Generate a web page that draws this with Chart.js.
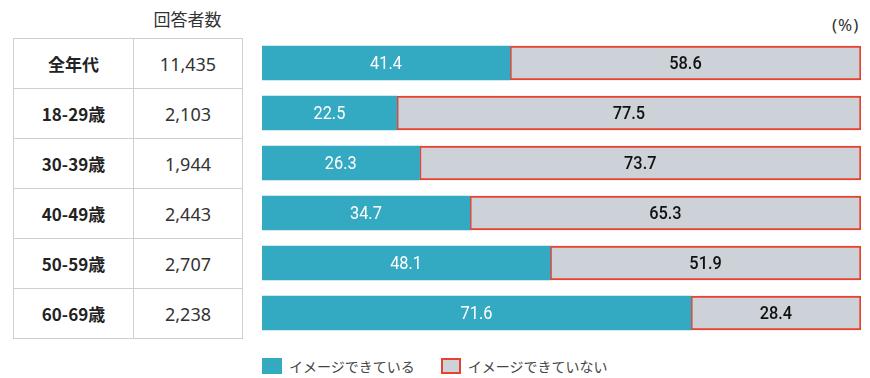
<!DOCTYPE html>
<html lang="ja">
<head>
<meta charset="utf-8">
<script src="https://cdn.jsdelivr.net/npm/chart.js@4.4.1/dist/chart.umd.min.js"></script>
<style>
  html, body { margin: 0; padding: 0; background: #fff; overflow: hidden; }
  body { width: 870px; height: 378px; position: relative; font-family: 'Noto Sans CJK JP', 'Noto Sans', sans-serif; color: #333; }
  #wrap { position: absolute; left: 0; top: 0; width: 870px; height: 345px; }
  #head { position: absolute; left: 133px; width: 109px; top: 7px; text-align: center; font-size: 17px; line-height: 24px; }
  #unit { position: absolute; left: 832px; top: 14px; font-size: 17px; line-height: 22px; letter-spacing: 1px; font-family: 'Noto Sans', sans-serif; }
  table { position: absolute; left: 13px; top: 38px; border-collapse: collapse; }
  td { border: 1px solid #cfcfcf; height: 49px; padding: 0; text-align: center; }
  td.age { width: 119px; font-weight: bold; font-size: 17px; color: #222; }
  td.num { width: 108px; font-size: 18px; color: #333; font-family: 'Noto Sans', Roboto, sans-serif; }
  #legend { position: absolute; left: 262px; top: 357px; display: flex; font-size: 14px; line-height: 18px; color: #444; }
  #legend .item { display: flex; align-items: center; margin-right: 26px; }
  #legend .box { width: 20px; height: 16px; margin-right: 7px; box-sizing: border-box; }
</style>
</head>
<body>
<div id="head">回答者数</div>
<div id="unit">(%)</div>
<table id="tbl"></table>
<div id="wrap"><canvas id="c"></canvas></div>
<div id="legend"></div>
<script>
var ageGroups = ['全年代', '18-29歳', '30-39歳', '40-49歳', '50-59歳', '60-69歳'];
var respondents = ['11,435', '2,103', '1,944', '2,443', '2,707', '2,238'];
var canImagine = [41.4, 22.5, 26.3, 34.7, 48.1, 71.6];
var cannotImagine = [58.6, 77.5, 73.7, 65.3, 51.9, 28.4];
var seriesNames = ['イメージできている', 'イメージできていない'];

// left table
var tbl = document.getElementById('tbl');
for (var i = 0; i < ageGroups.length; i++) {
  var tr = document.createElement('tr');
  tr.innerHTML = '<td class="age">' + ageGroups[i] + '</td><td class="num">' + respondents[i] + '</td>';
  tbl.appendChild(tr);
}

// value labels in the middle of each bar (narrow digits like the original)
var barLabels = {
  id: 'barLabels',
  afterDatasetsDraw: function (chart) {
    var ctx = chart.ctx;
    chart.data.datasets.forEach(function (ds, d) {
      var meta = chart.getDatasetMeta(d);
      meta.data.forEach(function (bar, j) {
        ctx.save();
        ctx.translate((bar.x + bar.base) / 2, bar.y + 1);
        ctx.scale(0.86, 1);
        ctx.textAlign = 'center';
        ctx.textBaseline = 'middle';
        ctx.fillStyle = d === 0 ? '#ffffff' : '#111111';
        ctx.font = (d === 0 ? '' : '500 ') + '19px Roboto, sans-serif';
        ctx.fillText(ds.data[j].toFixed(1), 0, 0);
        ctx.restore();
      });
    });
  }
};

var chart = new Chart(document.getElementById('c'), {
  type: 'bar',
  data: {
    labels: ageGroups,
    datasets: [{
      label: seriesNames[0],
      data: canImagine,
      backgroundColor: '#34a9c2',
      borderColor: '#34a9c2',
      borderWidth: 0,
      barThickness: 34
    }, {
      label: seriesNames[1],
      data: cannotImagine,
      backgroundColor: '#cdd2d8',
      borderColor: '#e8412f',
      borderWidth: 2,
      borderSkipped: false,
      barThickness: 34
    }]
  },
  options: {
    indexAxis: 'y',
    responsive: true,
    maintainAspectRatio: false,
    animation: false,
    layout: { padding: { left: 262, right: 9, top: 38, bottom: 7 } },
    scales: {
      x: { stacked: true, min: 0, max: 100, display: false },
      y: { stacked: true, display: false }
    },
    plugins: {
      tooltip: { enabled: false },
      legend: { display: false }
    }
  },
  plugins: [barLabels]
});

// legend from the chart's datasets
var legend = document.getElementById('legend');
chart.data.datasets.forEach(function (ds) {
  var item = document.createElement('div');
  item.className = 'item';
  var box = document.createElement('span');
  box.className = 'box';
  box.style.background = ds.backgroundColor;
  if (ds.borderWidth) box.style.border = ds.borderWidth + 'px solid ' + ds.borderColor;
  var txt = document.createElement('span');
  txt.textContent = ds.label;
  item.appendChild(box);
  item.appendChild(txt);
  legend.appendChild(item);
});
</script>
</body>
</html>
